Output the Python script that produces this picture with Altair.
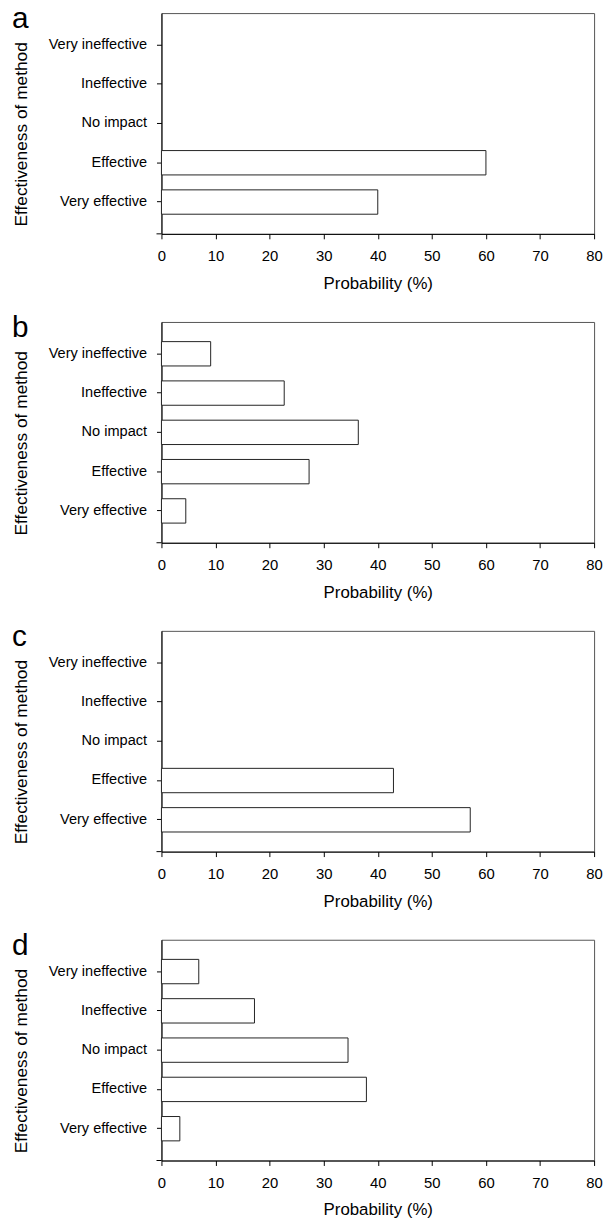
import altair as alt
import pandas as pd

FONT = "Liberation Sans"

categories = ["Very ineffective", "Ineffective", "No impact", "Effective", "Very effective"]
x_ticks = [0, 10, 20, 30, 40, 50, 60, 70, 80]
panel_letters = ["a", "b", "c", "d"]
panel_a = [0, 0, 0, 60.0, 40.0]
panel_b = [9.1, 22.7, 36.4, 27.3, 4.5]
panel_c = [0, 0, 0, 42.9, 57.1]
panel_d = [6.9, 17.2, 34.5, 37.9, 3.4]

PLOT_W = 437
PLOT_H = 223


def panel(letter, values):
    df = pd.DataFrame({"category": categories, "value": values})
    bars = (
        alt.Chart(df)
        .transform_filter("datum.value > 0")
        .mark_bar(fill="white", stroke="#222222", strokeWidth=1)
        .encode(
            x=alt.X(
                "value:Q",
                scale=alt.Scale(domain=[0, 80], nice=False),
                axis=alt.Axis(
                    values=x_ticks,
                    title="Probability (%)",
                    grid=False,
                    tickSize=5,
                    labelPadding=10,
                    labelFontSize=15,
                    labelFlush=False,
                    titleFontSize=17,
                    titleFontWeight="normal",
                    titlePadding=12,
                ),
            ),
            y=alt.Y(
                "category:N",
                sort=categories,
                scale=alt.Scale(domain=categories, paddingOuter=0.5, paddingInner=0.38),
                axis=alt.Axis(
                    title="Effectiveness of method",
                    tickSize=5,
                    labelPadding=10,
                    labelFontSize=14.7,
                    titleFontSize=17.5,
                    titleFontWeight="normal",
                    titlePadding=18,
                    titleY=122,
                ),
            ),
        )
    )
    corner = (
        alt.Chart(pd.DataFrame({"k": [0]}))
        .mark_rule(color="black", strokeWidth=1)
        .encode(x=alt.value(-5), x2=alt.value(0), y=alt.value(PLOT_H))
    )
    label = (
        alt.Chart(pd.DataFrame({"letter": [letter]}))
        .mark_text(fontSize=30, font=FONT, align="left", baseline="alphabetic", color="black")
        .encode(text="letter:N", x=alt.value(-151), y=alt.value(15))
    )
    return alt.layer(bars, corner, label).properties(width=PLOT_W, height=PLOT_H)


chart = (
    alt.vconcat(
        panel(panel_letters[0], panel_a),
        panel(panel_letters[1], panel_b),
        panel(panel_letters[2], panel_c),
        panel(panel_letters[3], panel_d),
        spacing=20,
    )
    .properties(padding={"left": 3, "top": -11, "right": 0, "bottom": 0}, background="white")
    .configure_view(stroke="#555555", strokeWidth=1)
    .configure_axis(
        labelFont=FONT,
        titleFont=FONT,
        labelColor="black",
        titleColor="black",
        domainColor="black",
        tickColor="black",
        domainWidth=1,
        tickWidth=1,
    )
)

chart.save("out.html", embed_options={"renderer": "svg", "actions": False})
